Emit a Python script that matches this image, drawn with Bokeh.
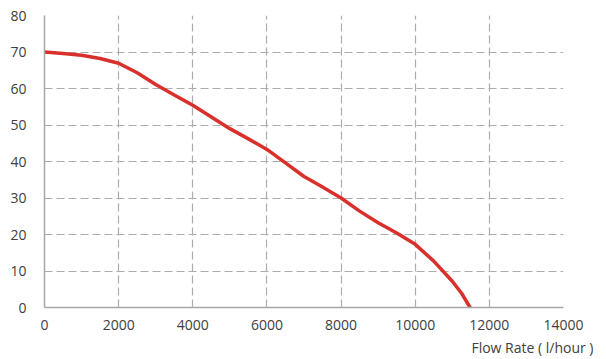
from bokeh.plotting import figure
from bokeh.models import Range1d, FixedTicker, Title
from bokeh.embed import file_html
from bokeh.resources import INLINE

flow = [0, 500, 1000, 1500, 2000, 2500, 3000, 3500, 4000, 4500, 5000, 5500,
        6000, 6500, 7000, 7500, 8000, 8500, 9000, 9500, 10000, 10500, 11000,
        11250, 11480]
head = [70.0, 69.6, 69.1, 68.2, 66.9, 64.3, 61.1, 58.2, 55.4, 52.2, 49.0, 46.2,
        43.3, 39.6, 35.9, 33.0, 30.0, 26.4, 23.2, 20.4, 17.3, 12.7, 7.2,
        3.9, 0.0]
x_ticks = [0, 2000, 4000, 6000, 8000, 10000, 12000, 14000]
y_ticks = [0, 10, 20, 30, 40, 50, 60, 70, 80]
x_title = "Flow Rate ( l/hour )"

FONT = "Open Sans"
TXT = "#404040"

p = figure(width=606, height=359, output_backend="svg", toolbar_location=None,
           x_range=Range1d(0, 14000), y_range=Range1d(0, 80),
           min_border_left=44, min_border_right=43, min_border_top=15,
           min_border_bottom=0)
p.outline_line_color = None
p.background_fill_color = "white"
p.border_fill_color = "white"

for ax in (p.xaxis[0], p.yaxis[0]):
    ax.major_tick_line_color = None
    ax.minor_tick_line_color = None
    ax.axis_line_color = "#a6a6a6"
    ax.axis_line_width = 1.5
    ax.major_label_text_font = FONT
    ax.major_label_text_font_size = "14px"
    ax.major_label_text_color = TXT

p.xaxis.ticker = FixedTicker(ticks=x_ticks)
p.yaxis.ticker = FixedTicker(ticks=y_ticks)
p.yaxis.major_label_standoff = 12
p.xaxis.major_label_standoff = 6

for g in (p.xgrid[0], p.ygrid[0]):
    g.grid_line_color = "#adadad"
    g.grid_line_dash = "8 4"
    g.grid_line_width = 1.2

p.line(flow, head, line_color="#d9302c", line_width=3.5, line_cap="round",
       line_join="round")

t = Title(text=x_title, align="right", text_font=FONT, text_font_size="14px",
          text_font_style="normal", text_color=TXT, offset=-30, standoff=6)
p.add_layout(t, "below")

open("out.html", "w").write(file_html(p, INLINE))
